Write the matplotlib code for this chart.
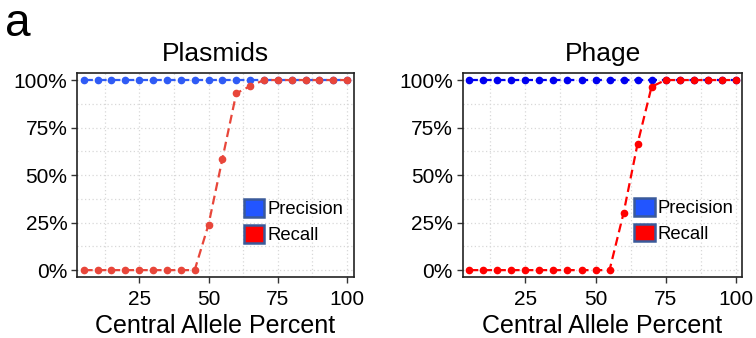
import matplotlib.pyplot as plt
import numpy as np
from matplotlib.patches import Patch
from matplotlib.ticker import FuncFormatter, MultipleLocator

plt.rcParams['font.family'] = ['Liberation Sans', 'DejaVu Sans']

allele_pct = [5, 10, 15, 20, 25, 30, 35, 40, 45, 50, 55, 60, 65, 70, 75, 80, 85, 90, 95, 100]

plasmid_precision = [1.0] * 20
plasmid_recall = [0, 0, 0, 0, 0, 0, 0, 0, 0, 0.24, 0.585, 0.93, 0.968,
                  1.0, 1.0, 1.0, 1.0, 1.0, 1.0, 1.0]

phage_precision = [1.0] * 20
phage_recall = [0, 0, 0, 0, 0, 0, 0, 0, 0, 0, 0, 0.30, 0.665, 0.965,
                1.0, 1.0, 1.0, 1.0, 1.0, 1.0]

panels = [
    ("Plasmids", plasmid_precision, plasmid_recall, "#2F5BF5", "#E8463A",
     [0.102, 0.180, 0.366, 0.604], (0.603, 0.382)),
    ("Phage", phage_precision, phage_recall, "#0000F0", "#FF0000",
     [0.612, 0.180, 0.370, 0.604], (0.614, 0.387)),
]

fig = plt.figure(figsize=(7.56, 3.38), dpi=100)

for title, prec, rec, blue, red, rect, leg_pos in panels:
    ax = fig.add_axes(rect)
    ax.plot(allele_pct, prec, color=blue, lw=1.6, ls=(0, (4, 2.2)),
            marker="o", ms=4.5, zorder=3)
    ax.plot(allele_pct, rec, color=red, lw=1.6, ls=(0, (4, 2.2)),
            marker="o", ms=4.5, zorder=4)

    ax.set_xlim(2.6, 102.4)
    ax.set_ylim(-0.037, 1.037)
    ax.xaxis.set_major_locator(MultipleLocator(25))
    ax.xaxis.set_minor_locator(MultipleLocator(12.5))
    ax.yaxis.set_major_locator(MultipleLocator(0.25))
    ax.yaxis.set_minor_locator(MultipleLocator(0.125))
    ax.yaxis.set_major_formatter(FuncFormatter(lambda v, p: f"{v * 100:.0f}%"))
    ax.grid(True, which="both", color="#d8d8d8", ls=(0, (1, 2)), lw=0.9)
    ax.tick_params(which="minor", length=0)
    ax.tick_params(which="major", labelsize=15, length=4, width=1,
                   color="#333333")
    ax.tick_params(axis="y", pad=3)
    ax.tick_params(axis="x", pad=5)
    for s in ax.spines.values():
        s.set_color("#222222")
        s.set_linewidth(1.2)

    ax.set_title(title, fontsize=19, pad=9)
    ax.set_xlabel("Central Allele Percent", fontsize=18, labelpad=4)

    handles = [Patch(facecolor="#2255FF", edgecolor="#3A5A9A", lw=1.8, label="Precision"),
               Patch(facecolor="#FF0000", edgecolor="#3A5A9A", lw=1.8, label="Recall")]
    ax.legend(handles=handles, loc="upper left", bbox_to_anchor=leg_pos,
              frameon=False, fontsize=13.3, handlelength=1.1, handleheight=1.1,
              handletextpad=0.15, labelspacing=0.35, borderpad=0,
              borderaxespad=0)

fig.text(0.006, 0.893, "a", fontsize=33, va="baseline", ha="left")

fig.savefig("out.png", dpi=100)
